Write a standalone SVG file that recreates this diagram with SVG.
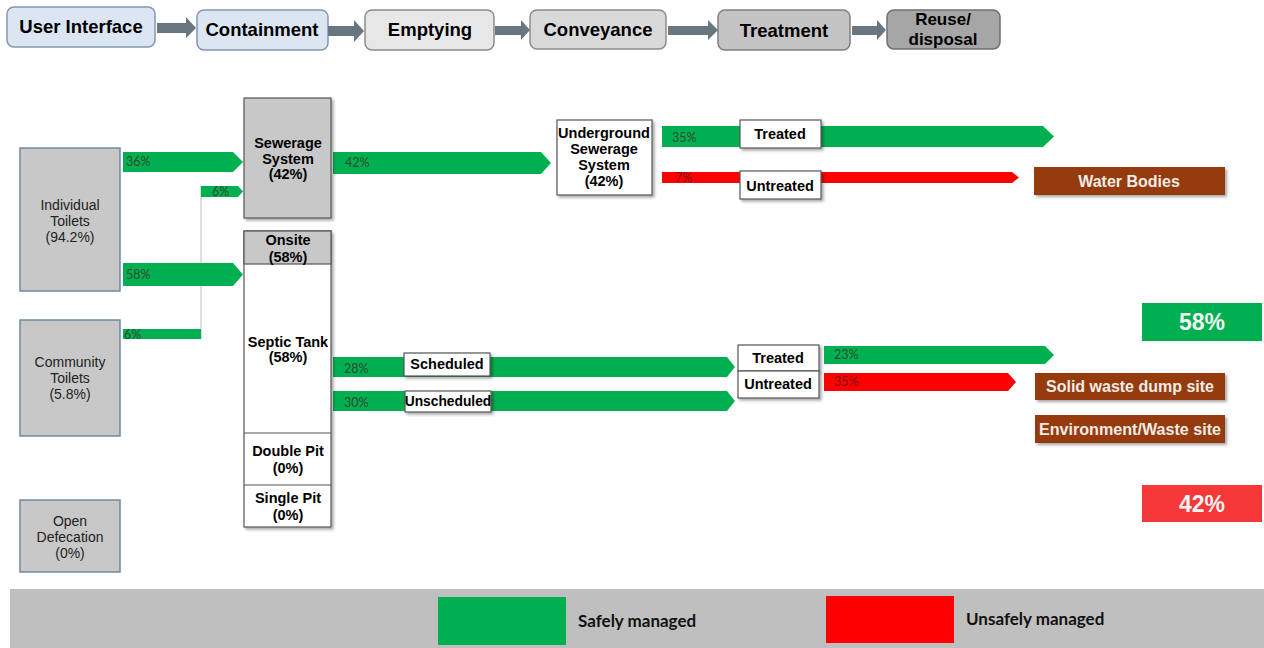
<svg xmlns="http://www.w3.org/2000/svg" width="1264" height="648" viewBox="0 0 1264 648">
<defs>
<filter id="sh" x="-10%" y="-10%" width="130%" height="130%"><feDropShadow dx="2" dy="2" stdDeviation="1.5" flood-color="#000" flood-opacity="0.35"/></filter>
<style>
.b{font-family:"Liberation Sans",Arial,sans-serif;font-weight:bold;text-anchor:middle;fill:#000}
.bx{font-size:14.5px}
.st{font-size:18.5px}
.n{font-family:"Liberation Sans",Arial,sans-serif;text-anchor:middle;fill:#222;font-size:14px}
.p{font-family:Lato,"Open Sans",sans-serif;font-size:12.5px;fill:#2c4a34}
.pr{font-family:Lato,"Open Sans",sans-serif;font-size:12.5px;fill:#7a1010}
.g{fill:#00b050}
.r{fill:#ff0000}
.stage{stroke-width:1.5}
.gray{fill:#c8c8c8;stroke:#6f8aa6;stroke-width:1.5}
.cb{fill:#c8c8c8;stroke:#555;stroke-width:1.2}
.wb{fill:#fff;stroke:#555;stroke-width:1.2}
.lab{fill:#fff;stroke:#555;stroke-width:1.2}
.brown{fill:#953a0f}
.wt{font-family:"Liberation Sans",Arial,sans-serif;font-weight:bold;text-anchor:middle;fill:#f4ece6;font-size:16px}
.ta{fill:#687680}
.big{font-family:"Liberation Sans",Arial,sans-serif;font-weight:bold;text-anchor:middle;fill:#f4f4f4;font-size:23px}
.leg{font-family:Lato,"Open Sans",sans-serif;font-weight:bold;font-size:17px;fill:#111}
</style>
</defs>
<rect width="1264" height="648" fill="#fff"/>

<g id="stages">
<g id="s-ui"><rect x="7" y="7" width="148" height="40" rx="7" fill="#dce6f2" stroke="#8497b0" class="stage"/><text x="81" y="33" class="b st">User Interface</text></g>
<g id="s-cont"><rect x="197" y="10" width="131" height="40" rx="7" fill="#dce6f2" stroke="#8497b0" class="stage"/><text x="262" y="36" class="b st">Containment</text></g>
<g id="s-empt"><rect x="365" y="10" width="129" height="40" rx="7" fill="#e7e7e7" stroke="#8c8c8c" class="stage"/><text x="430" y="36" class="b st">Emptying</text></g>
<g id="s-conv"><rect x="530" y="10" width="136" height="39" rx="7" fill="#d9d9d9" stroke="#8c8c8c" class="stage"/><text x="598" y="36" class="b st">Conveyance</text></g>
<g id="s-treat"><rect x="718" y="10" width="132" height="40" rx="7" fill="#c4c4c4" stroke="#7f7f7f" class="stage"/><text x="784" y="37" class="b st">Treatment</text></g>
<g id="s-reuse"><rect x="887" y="10" width="113" height="39" rx="7" fill="#a6a6a6" stroke="#6f6f6f" class="stage"/><text x="943" y="25" class="b" font-size="17">Reuse/</text><text x="943" y="45" class="b" font-size="17">disposal</text></g>
</g>

<g id="connectors">
<polygon class="ta" points="157,23 186,23 186,17 196,28 186,38 186,33 157,33"/>
<polygon class="ta" points="328,26 354,26 354,20 364,31 354,42 354,36 328,36"/>
<polygon class="ta" points="495,26 521,26 521,20 530,30 521,40 521,35 495,35"/>
<polygon class="ta" points="668,26 708,26 708,20 718,30 708,40 708,35 668,35"/>
<polygon class="ta" points="852,26 877,26 877,20 886,30 877,40 877,35 852,35"/>

<line x1="201" y1="186" x2="201" y2="339" stroke="#c8c8c8" stroke-width="1.2"/>
<polygon class="g" points="123,152 233,152 243,162 233,172 123,172"/>
<text x="126" y="166" class="p">36%</text>
<polygon class="g" points="123,263 233,263 243,274.5 233,286 123,286"/>
<text x="126" y="279" class="p">58%</text>
<polygon class="g" points="201,186 238,186 243,191.5 238,197 201,197"/>
<text x="212" y="196" class="p">6%</text>
<rect class="g" x="123" y="329" width="78" height="10"/>
<text x="124" y="339" class="p">6%</text>
<polygon class="g" points="333,152 541,152 551,163 541,174 333,174"/>
<text x="345" y="167" class="p">42%</text>
<polygon class="g" points="662,126 1043,126 1054,136.5 1043,147 662,147"/>
<text x="672" y="142" class="p">35%</text>
<polygon class="r" points="662,172 1012,172 1019,177.5 1012,183 662,183"/>
<text x="675" y="182" class="pr">7%</text>
<polygon class="g" points="333,357 727,357 735,367 727,377 333,377"/>
<text x="344" y="373" class="p">28%</text>
<polygon class="g" points="333,391 727,391 735,401 727,411 333,411"/>
<text x="344" y="407" class="p">30%</text>
<polygon class="g" points="824,346 1045,346 1054,355 1045,364 824,364"/>
<text x="834" y="359" class="p">23%</text>
<polygon class="r" points="824,373 1008,373 1016,382 1008,391 824,391"/>
<text x="834" y="386" class="pr">35%</text>
</g>

<g id="individual"><rect x="20" y="148" width="100" height="143" class="gray"/><text x="70" y="210" class="n">Individual</text><text x="70" y="226" class="n">Toilets</text><text x="70" y="242" class="n">(94.2%)</text></g>
<g id="community"><rect x="20" y="320" width="100" height="116" class="gray"/><text x="70" y="367" class="n">Community</text><text x="70" y="383" class="n">Toilets</text><text x="70" y="399" class="n">(5.8%)</text></g>
<g id="open"><rect x="20" y="500" width="100" height="72" class="gray"/><text x="70" y="526" class="n">Open</text><text x="70" y="542" class="n">Defecation</text><text x="70" y="558" class="n">(0%)</text></g>

<g id="sewerage"><rect x="244" y="98" width="87" height="120" class="cb" filter="url(#sh)"/><text x="288" y="148" class="b bx">Sewerage</text><text x="288" y="164" class="b bx">System</text><text x="288" y="179" class="b bx">(42%)</text></g>

<g id="onsite">
<rect x="244" y="231" width="87" height="296" class="wb" filter="url(#sh)"/>
<rect x="244" y="231" width="87" height="33" class="cb"/>
<text x="288" y="245" class="b bx">Onsite</text><text x="288" y="262" class="b bx">(58%)</text>
</g>
<g id="septic"><text x="288" y="347" class="b bx">Septic Tank</text><text x="288" y="362" class="b bx">(58%)</text><line x1="244" y1="433" x2="331" y2="433" stroke="#555" stroke-width="1.2"/></g>
<g id="doublepit"><text x="288" y="456" class="b bx">Double Pit</text><text x="288" y="473" class="b bx">(0%)</text><line x1="244" y1="485" x2="331" y2="485" stroke="#555" stroke-width="1.2"/></g>
<g id="singlepit"><text x="288" y="503" class="b bx">Single Pit</text><text x="288" y="520" class="b bx">(0%)</text></g>

<g id="underground"><rect x="557" y="120" width="95" height="75" class="wb" filter="url(#sh)"/><text x="604" y="138" class="b bx">Underground</text><text x="604" y="154" class="b bx">Sewerage</text><text x="604" y="170" class="b bx">System</text><text x="604" y="186" class="b bx">(42%)</text></g>

<g id="treated1"><rect x="740" y="120" width="81" height="28" class="lab" filter="url(#sh)"/><text x="780" y="139" class="b bx">Treated</text></g>
<g id="untreated1"><rect x="740" y="171" width="81" height="28" class="lab" filter="url(#sh)"/><text x="780" y="191" class="b bx">Untreated</text></g>
<g id="scheduled"><rect x="404" y="353" width="86" height="23" class="lab" filter="url(#sh)"/><text x="447" y="369" class="b bx">Scheduled</text></g>
<g id="unscheduled"><rect x="405" y="391" width="86" height="21" class="lab" filter="url(#sh)"/><text x="448" y="406" class="b" font-size="13.8">Unscheduled</text></g>
<g id="treated2"><rect x="738" y="345" width="81" height="26" class="lab" filter="url(#sh)"/><text x="778" y="363" class="b bx">Treated</text></g>
<g id="untreated2"><rect x="738" y="371" width="81" height="27" class="lab" filter="url(#sh)"/><text x="778" y="389" class="b bx">Untreated</text></g>

<g id="waterbodies"><rect x="1034" y="167" width="191" height="28" class="brown" filter="url(#sh)"/><text x="1129" y="187" class="wt">Water Bodies</text></g>
<g id="solidwaste"><rect x="1035" y="373" width="190" height="27" class="brown" filter="url(#sh)"/><text x="1130" y="392" class="wt">Solid waste dump site</text></g>
<g id="envwaste"><rect x="1035" y="415" width="190" height="28" class="brown" filter="url(#sh)"/><text x="1130" y="435" class="wt" textLength="182" lengthAdjust="spacingAndGlyphs">Environment/Waste site</text></g>

<g id="safe58"><rect x="1142" y="303" width="120" height="38" fill="#00b050"/><text x="1202" y="330" class="big">58%</text></g>
<g id="unsafe42"><rect x="1142" y="485" width="120" height="37" fill="#f63838"/><text x="1202" y="512" class="big">42%</text></g>

<g id="legend">
<rect x="10" y="589" width="1254" height="59" fill="#bfbfbf"/>
<rect x="438" y="597" width="128" height="48" fill="#00b050"/>
<text x="578" y="627" class="leg">Safely managed</text>
<rect x="826" y="596" width="128" height="47" fill="#ff0000"/>
<text x="966" y="625" class="leg">Unsafely managed</text>
</g>
</svg>
